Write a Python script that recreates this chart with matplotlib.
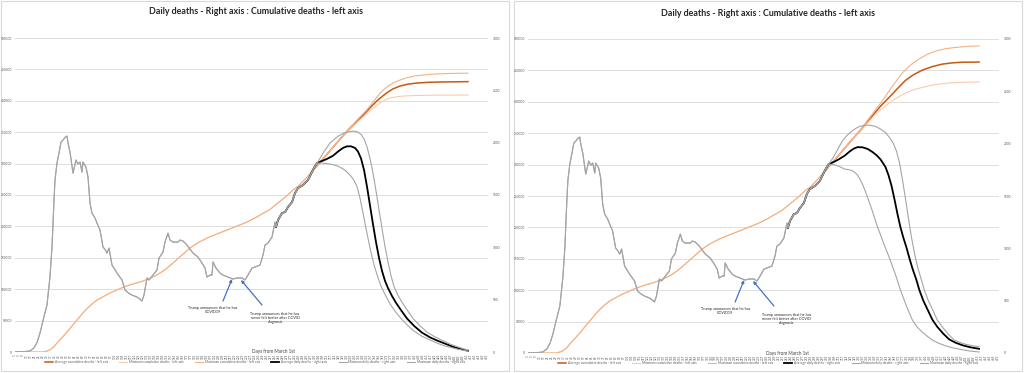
import matplotlib
matplotlib.use('Agg')
import matplotlib.pyplot as plt
import numpy as np
from matplotlib.patches import Rectangle

plt.rcParams['font.family'] = ['Lato', 'DejaVu Sans']

# ---------------- text ----------------
TITLE = "Daily deaths - Right axis : Cumulative deaths - left axis"
X_LABEL = "Days from March 1st"
LEGEND_LABELS = ["Average cumulative deaths - left axis",
                 "Minimum cumulative deaths - left axis",
                 "Maximum cumulative deaths - left axis",
                 "Average daily deaths - right axis",
                 "Minimum daily deaths - right axis",
                 "Maximum daily deaths - right axis"]
ANNOT1 = "Trump announces that he has\nCOVID19"
ANNOT2 = "Trump announces that he has\nnever felt better after COVID\ndiagnosis"

# ---------------- observed daily deaths (right axis) ----------------
hist_day = [1, 10, 16, 20, 23, 26, 29, 33, 36, 38, 40, 41, 43, 45, 47, 49, 51, 53, 54, 56,
            59, 62, 64, 66, 68, 69, 72, 74, 75, 76, 78, 81, 83, 86, 89, 91, 93, 95, 98, 103,
            108, 111, 115, 118, 123, 126, 128, 130, 133, 135, 139, 143, 145, 149, 151, 154, 156, 159, 164, 166,
            169, 173, 176, 179, 184, 188, 191, 193, 196, 198, 199, 202, 206, 209, 214, 219, 223, 228, 231, 234,
            238, 241, 246, 249, 251, 254, 256, 258, 260, 261, 262, 264, 268, 271, 274, 278, 281, 284, 289, 294,
            297, 300]
hist_daily = [2, 3, 10, 40, 90, 181, 300, 450, 720, 1003, 1450, 1643, 1805, 1900, 2005, 2025, 2050, 2063, 1996, 1910,
              1709, 1834, 1795, 1815, 1719, 1815, 1767, 1671, 1547, 1423, 1327, 1280, 1232, 1165, 1003, 980, 945, 993, 831, 754,
              688, 592, 560, 544, 525, 505, 487, 544, 707, 688, 735, 783, 897, 955, 1050, 1136, 1070, 1050, 1050, 1070,
              1060, 1022, 983, 945, 907, 850, 802, 716, 735, 735, 860, 802, 754, 735, 716, 697, 707, 707, 688, 735,
              802, 812, 831, 926, 1022, 1041, 1070, 1098, 1194, 1241, 1194, 1260, 1327, 1337, 1385, 1432, 1518, 1566, 1595, 1643,
              1700, 1760]

# ---------------- observed cumulative deaths (left axis) ----------------
hist_cum_day = [1, 20, 29, 33, 36, 40, 43, 48, 53, 58, 63, 68, 73, 78, 83, 90, 96, 103, 109, 117,
                126, 135, 143, 151, 159, 167, 176, 184, 193, 203, 213, 223, 233, 240, 246, 256, 266, 273, 279, 285,
                291, 297, 303, 312, 319, 326]
hist_cum = [0, 0, 0, 1500, 3500, 8500, 14300, 23000, 31800, 41500, 50900, 60500, 69000, 76500, 82800, 88800, 93900, 98800, 103000, 107500,
            111500, 116500, 122600, 131000, 141700, 153000, 165600, 174000, 181500, 188000, 194200, 200500, 207000, 212500, 218000, 227000, 240000, 249000, 258000, 265000,
            275000, 285500, 296500, 313000, 326000, 339000]

# ---------------- projections, left chart ----------------
L_avg_day = [303, 308, 313, 319, 324, 329, 333, 337, 341, 344, 347, 350, 353, 356, 359, 362, 365, 368, 371, 374,
             378, 382, 387, 393, 400, 408, 416, 423, 431, 439, 447, 454]
L_avg_val = [1805, 1825, 1845, 1875, 1915, 1950, 1965, 1965, 1950, 1915, 1850, 1740, 1580, 1400, 1220, 1050, 900, 775, 680, 611,
             535, 470, 400, 320, 250, 185, 140, 110, 80, 50, 28, 12]
L_min_day = [303, 308, 313, 319, 324, 329, 333, 337, 340, 343, 346, 349, 352, 355, 358, 361, 364, 367, 371, 376,
             381, 387, 393, 400, 408, 416, 423, 430, 437, 444, 454]
L_min_val = [1805, 1805, 1800, 1790, 1775, 1750, 1720, 1680, 1640, 1580, 1470, 1330, 1180, 1040, 910, 800, 710, 630, 550, 460,
             390, 320, 260, 200, 150, 115, 85, 60, 42, 26, 8]
L_max_day = [303, 306, 309, 313, 316, 320, 324, 329, 334, 339, 343, 347, 350, 353, 356, 359, 362, 365, 368, 371,
             374, 377, 380, 384, 389, 394, 399, 406, 413, 420, 428, 435, 441, 448, 454]
L_max_val = [1805, 1850, 1900, 1955, 1996, 2030, 2060, 2088, 2103, 2110, 2105, 2080, 2035, 1960, 1850, 1710, 1540, 1360, 1180, 1010,
             860, 730, 625, 540, 460, 390, 320, 250, 190, 150, 112, 80, 58, 35, 18]

L_cum_avg_day = [333, 340, 346, 352, 358, 363, 369, 374, 379, 386, 394, 403, 415, 429, 454]
L_cum_avg_val = [351000, 362000, 372000, 382000, 392000, 400000, 408000, 414000, 419000, 423500, 426500, 428300, 429500, 430000, 430500]
L_cum_min_day = [333, 340, 345, 349, 355, 360, 363, 368, 372, 376, 383, 390, 403, 420, 454]
L_cum_min_val = [350000, 361000, 368500, 374000, 383000, 389000, 393000, 398500, 402000, 404500, 406500, 407700, 408500, 409000, 409200]
L_cum_max_day = [333, 341, 347, 353, 360, 365, 369, 375, 380, 386, 393, 401, 409, 420, 435, 454]
L_cum_max_val = [352500, 366000, 376000, 386000, 400000, 410000, 417000, 424500, 429000, 433000, 436800, 439500, 441000, 442500, 443500, 444000]

# ---------------- projections, right chart ----------------
R_avg_day = [303, 308, 313, 319, 324, 328, 332, 337, 342, 347, 351, 355, 360, 363, 366, 369, 372, 375, 378, 381,
             384, 387, 391, 394, 398, 403, 407, 412, 418, 424, 430, 437, 445, 454]
R_avg_val = [1805, 1825, 1850, 1885, 1925, 1952, 1967, 1965, 1950, 1920, 1890, 1850, 1777, 1700, 1600, 1470, 1330, 1203, 1100, 1010,
             907, 810, 700, 602, 500, 400, 320, 250, 185, 130, 100, 75, 55, 40]
R_min_day = [303, 308, 313, 319, 323, 327, 331, 334, 337, 340, 343, 346, 349, 352, 355, 358, 361, 364, 367, 370,
             375, 381, 387, 392, 397, 402, 407, 413, 420, 427, 435, 444, 454]
R_min_val = [1805, 1800, 1785, 1757, 1752, 1740, 1710, 1670, 1610, 1540, 1460, 1380, 1290, 1203, 1130, 1050, 980, 907, 830, 750,
             602, 450, 315, 245, 200, 160, 124, 95, 70, 50, 35, 20, 10]
R_max_day = [303, 307, 310, 314, 317, 321, 325, 330, 334, 339, 344, 350, 355, 360, 364, 368, 371, 374, 377, 380,
             383, 386, 389, 392, 396, 399, 403, 408, 412, 417, 423, 429, 435, 441, 447, 454]
R_max_val = [1805, 1860, 1910, 1980, 2030, 2075, 2110, 2145, 2165, 2175, 2177, 2165, 2140, 2105, 2060, 2000, 1930, 1820, 1660, 1480,
             1290, 1110, 960, 830, 700, 602, 500, 400, 315, 250, 180, 124, 100, 82, 70, 60]

R_cum_avg_day = [333, 340, 347, 355, 364, 372, 380, 388, 397, 407, 417, 427, 437, 454]
R_cum_avg_val = [351000, 364000, 378000, 393000, 407500, 421000, 434000, 443000, 450400, 456000, 460000, 462000, 463000, 463300]
R_cum_min_day = [333, 340, 347, 355, 364, 372, 380, 388, 397, 410, 424, 440, 454]
R_cum_min_val = [350000, 363000, 375000, 387500, 398500, 407000, 414000, 419000, 423000, 427500, 430000, 431200, 431500]
R_cum_max_day = [333, 340, 348, 357, 367, 377, 385, 394, 402, 410, 420, 430, 442, 454]
R_cum_max_val = [352500, 366500, 383000, 402000, 425000, 446000, 458500, 468500, 475500, 480500, 484500, 486500, 488200, 489000]

# annotation anchors (day, daily deaths)
ANN1_TIP = (218, 697)
ANN1_TAIL = (209, 487)
ANN1_TEXT = (199, 401)
ANN2_TIP = (227, 688)
ANN2_TAIL = (248, 449)
ANN2_TEXT = (261, 325)

# ---------------- styling ----------------
C_AVG_CUM = '#C55A11'
C_MIN_CUM = '#F8CBAD'
C_MAX_CUM = '#F4B183'
C_AVG_DAY = '#000000'
C_MIN_DAY = '#A5A5A5'
C_MAX_DAY = '#A5A5A5'
GRID = '#D9D9D9'
TICKC = '#595959'

W, H = 1024, 373
fig = plt.figure(figsize=(W / 100, H / 100), dpi=100)


def px_rect(x0, y0, x1, y1):
    return [x0 / W, 1 - y1 / H, (x1 - x0) / W, (y1 - y0) / H]


def join(hd, hv, start, pd, pv):
    d = [x for x in hd if start <= x < pd[0]]
    v = [hv[i] for i, x in enumerate(hd) if start <= x < pd[0]]
    return d + list(pd), v + list(pv)


def panel(box, axr, avg, mn, mx, cavg, cmn, cmx, xlabel_px, legend_px, title_px):
    fig.add_artist(Rectangle((box[0] / W, 1 - box[3] / H), (box[2] - box[0]) / W,
                             (box[3] - box[1]) / H, transform=fig.transFigure,
                             fill=False, edgecolor=GRID, lw=0.8))
    ax = fig.add_axes(px_rect(*axr))
    ax2 = ax.twinx()
    ax.set_zorder(1)
    ax2.set_zorder(2)
    ax.patch.set_visible(False)
    ax2.patch.set_visible(False)

    # cumulative (left axis)
    d, v = join(hist_cum_day, hist_cum, 296, *cavg)
    l1, = ax.plot(d, v, color=C_AVG_CUM, lw=1.1, zorder=3)
    d, v = join(hist_cum_day, hist_cum, 1, *cmn)
    l2, = ax.plot(d, v, color=C_MIN_CUM, lw=0.8, zorder=3)
    d, v = join(hist_cum_day, hist_cum, 1, *cmx)
    l3, = ax.plot(d, v, color=C_MAX_CUM, lw=0.8, zorder=3)

    # daily (right axis)
    d, v = join(hist_day, hist_daily, 262, *avg)
    l4, = ax2.plot(d, v, color=C_AVG_DAY, lw=1.3, zorder=3)
    d, v = join(hist_day, hist_daily, 1, *mn)
    l5, = ax2.plot(d, v, color=C_MIN_DAY, lw=0.8, zorder=3)
    d, v = join(hist_day, hist_daily, 1, *mx)
    l6, = ax2.plot(d, v, color=C_MAX_DAY, lw=0.8, zorder=3)

    ax.set_xlim(1, 474)
    ax.set_ylim(0, 500000)
    ax2.set_ylim(0, 3000)
    ax.set_yticks(np.arange(0, 500001, 50000))
    ax2.set_yticks(np.arange(0, 3001, 500))
    xt = np.arange(1, 474, 4)
    ax.set_xticks(xt)
    ax.set_xticklabels([str(t) for t in xt], rotation=90)
    ax.grid(axis='y', color=GRID, lw=0.6)
    ax.set_axisbelow(True)
    for a in (ax, ax2):
        for s in a.spines.values():
            s.set_visible(False)
    ax.tick_params(axis='y', length=0, labelsize=2.3, colors=TICKC, pad=2.2)
    ax.tick_params(axis='x', length=0, labelsize=2.2, colors=TICKC, pad=1.5)
    ax2.tick_params(axis='y', length=0, labelsize=2.3, colors=TICKC, pad=3.6)

    # annotations
    for tip, tail, pos, txt in ((ANN1_TIP, ANN1_TAIL, ANN1_TEXT, ANNOT1),
                                (ANN2_TIP, ANN2_TAIL, ANN2_TEXT, ANNOT2)):
        ax2.annotate('', xy=tip, xytext=tail,
                     arrowprops=dict(arrowstyle='-|>', color='#4472C4', lw=0.9,
                                     mutation_scale=4, shrinkA=0, shrinkB=0), zorder=5)
        ax2.text(pos[0], pos[1], txt, ha='center', va='center', fontsize=2.7,
                 color='#262626', linespacing=1.15, zorder=5)

    fig.text(title_px[0] / W, 1 - title_px[1] / H, TITLE, ha='center', va='center',
             fontsize=6.4, fontweight='bold', color='#262626')
    fig.text(xlabel_px[0] / W, 1 - xlabel_px[1] / H, X_LABEL, ha='center', va='center',
             fontsize=3.3, color='#404040')
    fig.legend([l1, l2, l3, l4, l5, l6], LEGEND_LABELS, loc='center',
               bbox_to_anchor=(legend_px[0] / W, 1 - legend_px[1] / H), ncol=6,
               fontsize=2.3, frameon=False, handlelength=2.5, handletextpad=0.5,
               columnspacing=3.6, labelcolor=TICKC)


panel((1, 1, 509, 371), (15, 38, 488, 352),
      (L_avg_day, L_avg_val), (L_min_day, L_min_val), (L_max_day, L_max_val),
      (L_cum_avg_day, L_cum_avg_val), (L_cum_min_day, L_cum_min_val), (L_cum_max_day, L_cum_max_val),
      (274, 352), (255, 362), (256, 12))
panel((514, 1, 1022, 371), (528, 39, 999, 353),
      (R_avg_day, R_avg_val), (R_min_day, R_min_val), (R_max_day, R_max_val),
      (R_cum_avg_day, R_cum_avg_val), (R_cum_min_day, R_cum_min_val), (R_cum_max_day, R_cum_max_val),
      (788, 353), (768, 363), (768, 13))

fig.savefig('out.png', dpi=100, facecolor='white')
